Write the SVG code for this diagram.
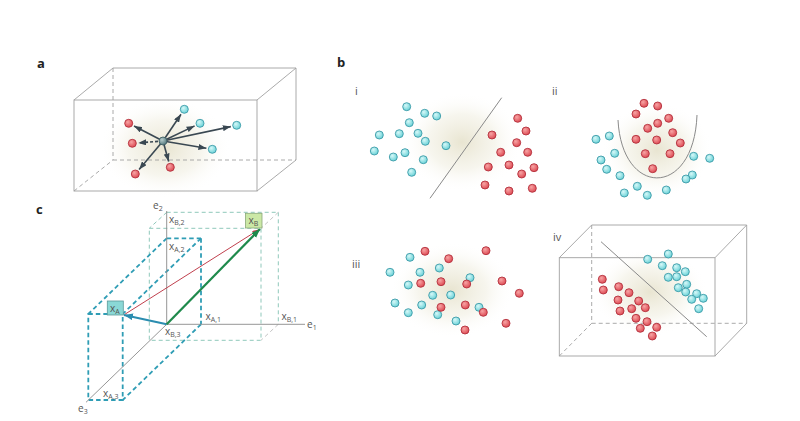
<svg xmlns="http://www.w3.org/2000/svg" width="800" height="421" viewBox="0 0 800 421">
<defs>
<radialGradient id="gc" cx="0.38" cy="0.35" r="0.65"><stop offset="0" stop-color="#d6f8f8"/><stop offset="1" stop-color="#6cd3d8"/></radialGradient>
<radialGradient id="gr" cx="0.38" cy="0.35" r="0.65"><stop offset="0" stop-color="#f7a4a4"/><stop offset="1" stop-color="#de4c55"/></radialGradient>
<radialGradient id="gm" cx="0.38" cy="0.35" r="0.65"><stop offset="0" stop-color="#b6cccc"/><stop offset="1" stop-color="#557a7e"/></radialGradient>
<radialGradient id="glow"><stop offset="0" stop-color="#e6e2cc" stop-opacity="0.9"/><stop offset="0.55" stop-color="#f1efe2" stop-opacity="0.6"/><stop offset="1" stop-color="#ffffff" stop-opacity="0"/></radialGradient>
<marker id="ah" viewBox="0 0 8 6" refX="8" refY="3" markerWidth="8" markerHeight="6" markerUnits="userSpaceOnUse" orient="auto"><path d="M0,0 L8,3 L0,6 z" fill="#3a4852"/></marker>
<marker id="ahb" viewBox="0 0 8 6" refX="8" refY="3" markerWidth="9" markerHeight="7" markerUnits="userSpaceOnUse" orient="auto"><path d="M0,0 L8,3 L0,6 z" fill="#2b8db0"/></marker>
<marker id="ahg" viewBox="0 0 8 6" refX="8" refY="3" markerWidth="9" markerHeight="7" markerUnits="userSpaceOnUse" orient="auto"><path d="M0,0 L8,3 L0,6 z" fill="#1f8a4c"/></marker>
<marker id="ahr" viewBox="0 0 8 6" refX="8" refY="3" markerWidth="7" markerHeight="5" markerUnits="userSpaceOnUse" orient="auto"><path d="M0,0 L8,3 L0,6 z" fill="#c0404e"/></marker>
</defs>
<style>
.cy{fill:url(#gc);stroke:#3d9ba8;stroke-width:0.9}
.rd{fill:url(#gr);stroke:#b3313d;stroke-width:0.9}
.box{fill:none;stroke:#a0a0a0;stroke-width:0.9}
.boxd{fill:none;stroke:#a0a0a0;stroke-width:0.9;stroke-dasharray:4,3}
.sep{fill:none;stroke:#8a8a8a;stroke-width:1}
.arr{fill:none;stroke:#3a4852;stroke-width:1.6;marker-end:url(#ah)}
.pl{font-family:"Open Sans","Liberation Sans",sans-serif;font-weight:bold;font-size:13px;fill:#222}
.rn{font-family:"Open Sans","Liberation Sans",sans-serif;font-size:11px;fill:#555}
.lb{font-family:"Open Sans","Liberation Sans",sans-serif;font-size:10px;fill:#555}
.sb{font-size:7px}
.ax{fill:none;stroke:#8a8a8a;stroke-width:0.9}
.adash{fill:none;stroke:#2f9db5;stroke-width:1.8;stroke-dasharray:4.5,3}
.bdash{fill:none;stroke:#8fc8bb;stroke-width:1;stroke-dasharray:4,3}
.gdash{fill:none;stroke:#c4c4c4;stroke-width:1;stroke-dasharray:4,3}
</style>
<rect width="800" height="421" fill="#ffffff"/>

<!-- Panel a -->
<g id="panel-a">
<text class="pl" x="37" y="68">a</text>
<ellipse cx="165" cy="148" rx="66" ry="50" fill="url(#glow)"/>
<g id="box-a">
<line class="boxd" x1="113" y1="68" x2="113" y2="160"/>
<line class="boxd" x1="113" y1="160" x2="296" y2="160"/>
<line class="boxd" x1="74" y1="191" x2="113" y2="160"/>
<polyline class="box" points="74,100 113,68 296,68 296,160 257,191"/>
<line class="box" x1="257" y1="100" x2="296" y2="68"/>
<rect class="box" x="74" y="100" width="183" height="91"/>
</g>
</g>
<g id="connectors-a">
<line class="arr" x1="163" y1="141" x2="181" y2="114.3"/>
<line class="arr" x1="163" y1="141" x2="194.6" y2="125.9"/>
<line class="arr" x1="163" y1="141" x2="230.8" y2="126.6"/>
<line class="arr" x1="163" y1="141" x2="206.4" y2="148.3"/>
<line class="arr" x1="163" y1="141" x2="134" y2="126"/>
<line class="arr" x1="163" y1="141" x2="138.3" y2="142.9" stroke-dasharray="3,2"/>
<line class="arr" x1="163" y1="141" x2="139.1" y2="169.4"/>
<line class="arr" x1="163" y1="141" x2="168.7" y2="161.5"/>
</g>
<g id="nodes-a">
<circle id="a-query" cx="163" cy="141" r="4" fill="url(#gm)" stroke="#3f5f63" stroke-width="0.9"/>
<circle id="a-c1" class="cy" cx="184.3" cy="109.3" r="4"/>
<circle id="a-c2" class="cy" cx="200" cy="123.3" r="4"/>
<circle id="a-c3" class="cy" cx="236.7" cy="125.3" r="4"/>
<circle id="a-c4" class="cy" cx="212.3" cy="149.3" r="4"/>
<circle id="a-r1" class="rd" cx="128.7" cy="123.3" r="4"/>
<circle id="a-r2" class="rd" cx="132.3" cy="143.3" r="4"/>
<circle id="a-r3" class="rd" cx="135.3" cy="174" r="4"/>
<circle id="a-r4" class="rd" cx="170.3" cy="167.3" r="4"/>
</g>

<!-- Panel b -->
<text class="pl" x="337" y="67">b</text>
<g id="panel-b-i">
<text class="rn" x="355" y="95">i</text>
<ellipse cx="462" cy="142" rx="60" ry="50" fill="url(#glow)"/>
<line class="sep" x1="501.7" y1="97.7" x2="430" y2="198.3"/>
<circle class="cy" cx="406.7" cy="106.7" r="4"/><circle class="cy" cx="424.7" cy="113.3" r="4"/><circle class="cy" cx="436.7" cy="116" r="4"/>
<circle class="cy" cx="409.3" cy="122.7" r="4"/><circle class="cy" cx="379.3" cy="135" r="4"/><circle class="cy" cx="399.3" cy="133.7" r="4"/>
<circle class="cy" cx="418" cy="133.3" r="4"/><circle class="cy" cx="425.3" cy="141.3" r="4"/><circle class="cy" cx="446" cy="145.7" r="4"/>
<circle class="cy" cx="374.3" cy="151" r="4"/><circle class="cy" cx="393.3" cy="157" r="4"/><circle class="cy" cx="405" cy="152.7" r="4"/>
<circle class="cy" cx="423.3" cy="159.7" r="4"/><circle class="cy" cx="411.7" cy="172.3" r="4"/>
<circle class="rd" cx="517.7" cy="118.3" r="4"/><circle class="rd" cx="526" cy="131" r="4"/><circle class="rd" cx="492" cy="135" r="4"/>
<circle class="rd" cx="516.7" cy="142.7" r="4"/><circle class="rd" cx="500.7" cy="152.3" r="4"/><circle class="rd" cx="527.7" cy="152.3" r="4"/>
<circle class="rd" cx="488.3" cy="167" r="4"/><circle class="rd" cx="509" cy="165" r="4"/><circle class="rd" cx="521.7" cy="174" r="4"/>
<circle class="rd" cx="534" cy="167.7" r="4"/><circle class="rd" cx="485" cy="185" r="4"/><circle class="rd" cx="509" cy="191" r="4"/>
<circle class="rd" cx="532.3" cy="188.3" r="4"/>
</g>
<g id="panel-b-ii">
<text class="rn" x="552" y="95">ii</text>
<ellipse cx="657" cy="150" rx="55" ry="48" fill="url(#glow)"/>
<path class="sep" d="M618,120 C622,198 694,198 697,115"/>
<circle class="rd" cx="644" cy="103.3" r="4"/><circle class="rd" cx="657.7" cy="106" r="4"/><circle class="rd" cx="636" cy="114" r="4"/>
<circle class="rd" cx="668.7" cy="118.3" r="4"/><circle class="rd" cx="657.7" cy="123.3" r="4"/><circle class="rd" cx="647.7" cy="128.3" r="4"/>
<circle class="rd" cx="672.7" cy="132.7" r="4"/><circle class="rd" cx="636" cy="139.3" r="4"/><circle class="rd" cx="656.7" cy="140" r="4"/>
<circle class="rd" cx="680.3" cy="143" r="4"/><circle class="rd" cx="645.3" cy="153.7" r="4"/><circle class="rd" cx="670" cy="153.7" r="4"/>
<circle class="rd" cx="652.7" cy="168.7" r="4"/>
<circle class="cy" cx="596" cy="139.3" r="4"/><circle class="cy" cx="609.3" cy="136" r="4"/><circle class="cy" cx="614.7" cy="153.3" r="4"/>
<circle class="cy" cx="601" cy="160" r="4"/><circle class="cy" cx="606.7" cy="169.3" r="4"/><circle class="cy" cx="620" cy="175.7" r="4"/>
<circle class="cy" cx="693.7" cy="156.3" r="4"/><circle class="cy" cx="709.7" cy="158.3" r="4"/><circle class="cy" cx="692.3" cy="175" r="4"/>
<circle class="cy" cx="686" cy="179" r="4"/><circle class="cy" cx="637.3" cy="186.3" r="4"/><circle class="cy" cx="624.3" cy="193" r="4"/>
<circle class="cy" cx="647.3" cy="195.3" r="4"/><circle class="cy" cx="666.3" cy="190" r="4"/>
</g>
<g id="panel-b-iii">
<text class="rn" x="352" y="268">iii</text>
<ellipse cx="452" cy="290" rx="62" ry="48" fill="url(#glow)"/>
<circle class="cy" cx="410" cy="257.3" r="4"/><circle class="cy" cx="390" cy="272.3" r="4"/><circle class="cy" cx="420" cy="272.3" r="4"/>
<circle class="cy" cx="439.3" cy="268" r="4"/><circle class="cy" cx="408.3" cy="285" r="4"/><circle class="cy" cx="470" cy="277.7" r="4"/>
<circle class="cy" cx="432.7" cy="295.3" r="4"/><circle class="cy" cx="450.7" cy="295" r="4"/><circle class="cy" cx="395" cy="303" r="4"/>
<circle class="cy" cx="421.7" cy="305" r="4"/><circle class="cy" cx="408.3" cy="312.7" r="4"/><circle class="cy" cx="437.7" cy="314.7" r="4"/>
<circle class="cy" cx="479" cy="307.3" r="4"/><circle class="cy" cx="456" cy="321" r="4"/>
<circle class="rd" cx="425" cy="251.3" r="4"/><circle class="rd" cx="448.7" cy="258.7" r="4"/><circle class="rd" cx="486" cy="250.7" r="4"/>
<circle class="rd" cx="420.7" cy="283.3" r="4"/><circle class="rd" cx="441" cy="281.7" r="4"/><circle class="rd" cx="466.7" cy="284" r="4"/>
<circle class="rd" cx="502" cy="281" r="4"/><circle class="rd" cx="519.3" cy="293.3" r="4"/><circle class="rd" cx="465.3" cy="305" r="4"/>
<circle class="rd" cx="441" cy="307.3" r="4"/><circle class="rd" cx="483.3" cy="312.3" r="4"/><circle class="rd" cx="506" cy="323.3" r="4"/>
<circle class="rd" cx="465" cy="330" r="4"/>
</g>
<g id="panel-b-iv">
<text class="rn" x="553" y="241">iv</text>
<ellipse cx="650" cy="292" rx="58" ry="44" fill="url(#glow)"/>
<line class="boxd" x1="591.7" y1="225" x2="591.7" y2="323.3"/>
<line class="boxd" x1="591.7" y1="323.3" x2="746.7" y2="323.3"/>
<line class="boxd" x1="559.3" y1="356" x2="591.7" y2="323.3"/>
<polyline class="box" points="559.3,257.7 591.7,225 746.7,225 746.7,323.3 715,356"/>
<line class="box" x1="715" y1="257.7" x2="746.7" y2="225"/>
<rect class="box" x="559.3" y="257.7" width="155.7" height="98.3"/>
<line class="sep" x1="601" y1="241.7" x2="706.7" y2="336.7"/>
<circle class="cy" cx="668.3" cy="254" r="4"/><circle class="cy" cx="647.7" cy="259.3" r="4"/><circle class="cy" cx="662.3" cy="265.7" r="4"/>
<circle class="cy" cx="676.7" cy="267.7" r="4"/><circle class="cy" cx="685.3" cy="271.7" r="4"/><circle class="cy" cx="668.3" cy="277.3" r="4"/>
<circle class="cy" cx="676.7" cy="276.7" r="4"/><circle class="cy" cx="686.7" cy="284.3" r="4"/><circle class="cy" cx="678.3" cy="287.7" r="4"/>
<circle class="cy" cx="685.7" cy="292" r="4"/><circle class="cy" cx="696.7" cy="293.7" r="4"/><circle class="cy" cx="703.3" cy="298.3" r="4"/>
<circle class="cy" cx="691.7" cy="299.3" r="4"/><circle class="cy" cx="698.7" cy="308.7" r="4"/>
<circle class="rd" cx="602.3" cy="279.3" r="4"/><circle class="rd" cx="603.3" cy="290" r="4"/><circle class="rd" cx="618.7" cy="286.7" r="4"/>
<circle class="rd" cx="629" cy="292.7" r="4"/><circle class="rd" cx="618" cy="300" r="4"/><circle class="rd" cx="638.7" cy="301" r="4"/>
<circle class="rd" cx="620" cy="311" r="4"/><circle class="rd" cx="631.7" cy="308.7" r="4"/><circle class="rd" cx="645.3" cy="307.7" r="4"/>
<circle class="rd" cx="636" cy="318.3" r="4"/><circle class="rd" cx="647" cy="321.7" r="4"/><circle class="rd" cx="640.3" cy="328.3" r="4"/>
<circle class="rd" cx="656.7" cy="327.3" r="4"/><circle class="rd" cx="652.3" cy="336" r="4"/>
</g>

<!-- Panel c -->
<g id="panel-c">
<text class="pl" x="36" y="214">c</text>
<g id="box-B">
<line class="bdash" x1="166.7" y1="212.3" x2="278.3" y2="212.3"/>
<line class="bdash" x1="278.3" y1="212.3" x2="278.3" y2="324.3"/>
<line class="bdash" x1="166.7" y1="212.3" x2="149.3" y2="228.3"/>
<line class="gdash" x1="278.3" y1="212.3" x2="261" y2="228.3"/>
<line class="gdash" x1="278.3" y1="324.3" x2="261" y2="340.3"/>
<rect class="bdash" x="149.3" y="228.3" width="111.7" height="112"/>
</g>
<g id="box-A">
<line class="adash" x1="166.7" y1="238.3" x2="201" y2="238.3"/>
<line class="adash" x1="201" y1="238.3" x2="201" y2="324.3"/>
<line class="adash" x1="166.7" y1="238.3" x2="88.3" y2="314"/>
<line class="adash" x1="201" y1="238.3" x2="122.7" y2="314"/>
<line class="adash" x1="201" y1="324.3" x2="122.7" y2="400"/>
<rect class="adash" x="88.3" y="314" width="34.4" height="86"/>
</g>
<g id="axes">
<line class="ax" x1="166.7" y1="324.3" x2="166.7" y2="211"/>
<line class="ax" x1="166.7" y1="324.3" x2="305" y2="324.3"/>
<line class="ax" x1="166.7" y1="324.3" x2="86" y2="402.3"/>
</g>
<text class="lb" x="153" y="209">e<tspan class="sb" dy="2">2</tspan></text>
<text class="lb" x="307" y="328">e<tspan class="sb" dy="2">1</tspan></text>
<text class="lb" x="78" y="412">e<tspan class="sb" dy="2">3</tspan></text>
<text class="lb" x="169" y="223">x<tspan class="sb" dy="2">B,2</tspan></text>
<text class="lb" x="169" y="249.5">x<tspan class="sb" dy="2">A,2</tspan></text>
<text class="lb" x="205.5" y="320">x<tspan class="sb" dy="2">A,1</tspan></text>
<text class="lb" x="281.5" y="320">x<tspan class="sb" dy="2">B,1</tspan></text>
<text class="lb" x="165" y="335">x<tspan class="sb" dy="2">B,3</tspan></text>
<text class="lb" x="103" y="396.5">x<tspan class="sb" dy="2">A,3</tspan></text>
</g>
<g id="connectors-c">
<line x1="124.5" y1="314.5" x2="259" y2="229.5" stroke="#c0404e" stroke-width="1" marker-end="url(#ahr)"/>
<line x1="166.7" y1="324.3" x2="124" y2="315" stroke="#2b8db0" stroke-width="2.2" marker-end="url(#ahb)"/>
<line x1="166.7" y1="324.3" x2="260" y2="229" stroke="#1f8a4c" stroke-width="2.2" marker-end="url(#ahg)"/>
</g>
<g id="node-xA">
<rect x="107.3" y="301" width="16" height="14" fill="#8ad8d6" stroke="#5a9a9a" stroke-width="0.8"/>
<text class="lb" x="110" y="311.5">x<tspan class="sb" dy="2">A</tspan></text>
</g>
<g id="node-xB">
<rect x="245.5" y="213.3" width="16.5" height="14.7" fill="#cbe8a6" stroke="#8aa878" stroke-width="0.8"/>
<text class="lb" x="248.5" y="223.5">x<tspan class="sb" dy="2">B</tspan></text>
</g>
</svg>
